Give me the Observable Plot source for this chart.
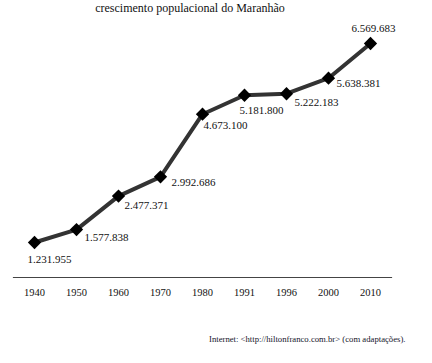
<!DOCTYPE html>
<html>
<head>
<meta charset="utf-8">
<script src="https://cdn.jsdelivr.net/npm/d3@7"></script>
<script src="https://cdn.jsdelivr.net/npm/@observablehq/plot@0.6"></script>
<style>
  html, body { margin: 0; padding: 0; background: #fff; }
  body { width: 432px; height: 363px; position: relative; overflow: hidden; font-family: "Liberation Serif", "DejaVu Serif", serif; }
  #title { width: 380px; height: 20px; line-height: 16px; text-align: center; font-size: 12px; color: #111; }
  #caption { position: absolute; left: 209px; top: 334px; font-size: 8.7px; color: #15152a; white-space: nowrap; }
</style>
</head>
<body>
<div id="title">crescimento populacional do Maranhão</div>
<div id="chart"></div>
<div id="caption">Internet: &lt;http://hiltonfranco.com.br&gt; (com adaptações).</div>
<script>
const years = ["1940", "1950", "1960", "1970", "1980", "1991", "1996", "2000", "2010"];
const population = [1231955, 1577838, 2477371, 2992686, 4673100, 5181800, 5222183, 5638381, 6569683];
const labels = ["1.231.955", "1.577.838", "2.477.371", "2.992.686", "4.673.100", "5.181.800", "5.222.183", "5.638.381", "6.569.683"];

// label placement (layout only)
const placement = [
  {dx: -7, dy: 17, anchor: "start"},
  {dx: 8, dy: 8, anchor: "start"},
  {dx: 6, dy: 9, anchor: "start"},
  {dx: 11, dy: 6, anchor: "start"},
  {dx: 1, dy: 11, anchor: "start"},
  {dx: -5, dy: 15, anchor: "start"},
  {dx: 8, dy: 9, anchor: "start"},
  {dx: 8, dy: 5, anchor: "start"},
  {dx: 3, dy: -15, anchor: "middle"}
];

const data = years.map((y, i) => ({year: y, value: population[i], label: labels[i]}));

const labelMarks = data.map((d, i) => Plot.text([d], {
  x: "year", y: "value", text: "label",
  dx: placement[i].dx, dy: placement[i].dy, textAnchor: placement[i].anchor,
  fontSize: 11, fill: "#111", fontFamily: "Liberation Serif"
}));

const chart = Plot.plot({
  width: 432,
  height: 305,
  marginLeft: 13,
  marginRight: 41,
  marginTop: 23,
  marginBottom: 48,
  style: {fontFamily: "Liberation Serif", background: "transparent"},
  x: {type: "point", domain: years, padding: 0.5, label: null},
  y: {domain: [293150, 6569683], axis: null},
  marks: [
    Plot.frame({anchor: "bottom", stroke: "#444", strokeWidth: 1.2}),
    Plot.axisX({tickSize: 0, tickPadding: 11, fontSize: 10.5, fill: "#111", label: null}),
    Plot.line(data, {x: "year", y: "value", stroke: "#333", strokeWidth: 4, strokeLinejoin: "round"}),
    Plot.dot(data, {x: "year", y: "value", symbol: "square", r: 5.3, rotate: 45, fill: "#000", stroke: "none"}),
    ...labelMarks
  ]
});
document.getElementById("chart").appendChild(chart);
</script>
</body>
</html>
